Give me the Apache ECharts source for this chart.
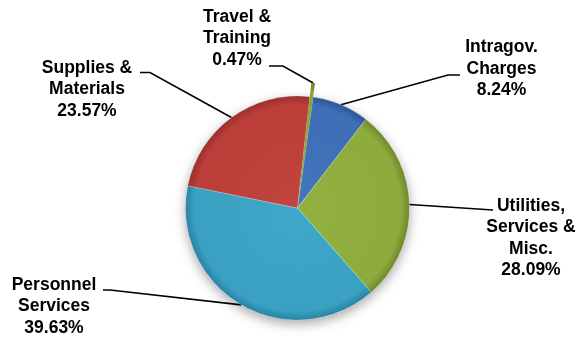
<!DOCTYPE html>
<html>
<head>
<meta charset="utf-8">
<script src="https://cdn.jsdelivr.net/npm/echarts@6/dist/echarts.min.js"></script>
<style>
  html, body { margin: 0; padding: 0; background: #ffffff; }
  #chart { width: 580px; height: 339px; }
</style>
</head>
<body>
<div id="chart"></div>
<script>
// Expense categories (drawn clockwise from just right of 12 o'clock)
const categories = [
  'Travel &\nTraining',
  'Intragov.\nCharges',
  'Utilities,\nServices &\nMisc.',
  'Personnel\nServices',
  'Supplies &\nMaterials'
];
// Share of total, percent
const shares = [0.47, 8.24, 28.09, 39.63, 23.57];
// Slices that stick out past the rim
const extended = [true, false, false, false, false];

// Geometry
const CX = 297.5, CY = 208, R = 112, START_ANGLE = 83.7, POP = 14;

// Slice shading: [centre, body, rim]
const shades = [
  ['#95ae40', '#8ca43a', '#6e8429'],
  ['#4376bd', '#3e6fb6', '#2c5694'],
  ['#93b141', '#8dac3c', '#6f872b'],
  ['#40a8ca', '#3aa1c2', '#2a82a4'],
  ['#c2443f', '#bc3e39', '#99302c']
];

// Label block centres and leader-line bends (null = straight leader)
const labelPlacement = [
  { x: 237,   y: 38.5,  bend: [283, 66],   end: [269, 66] },
  { x: 501.5, y: 69,    bend: [448, 75],   end: [460, 75] },
  { x: 531,   y: 238,   bend: null,        end: [493, 210] },
  { x: 54,    y: 306.5, bend: [110, 290],  end: [103, 290] },
  { x: 87,    y: 89.5,  bend: [150, 72.5], end: [140, 72.5] }
];

const total = shares.reduce((a, b) => a + b, 0);

// Point on the rim of slice i at its middle angle
function rimAnchor(i) {
  let before = 0;
  for (let k = 0; k < i; k++) before += shares[k];
  const midFrac = (before + shares[i] / 2) / total;
  const ang = (START_ANGLE - midFrac * 360) * Math.PI / 180;
  const r = R + (extended[i] ? POP : 0);
  return [CX + r * Math.cos(ang), CY - r * Math.sin(ang)];
}

function sliceFill(i, radius) {
  const s = shades[i];
  return {
    type: 'radial', x: CX, y: CY, r: radius, global: true,
    colorStops: [
      { offset: 0, color: s[0] },
      { offset: 0.8, color: s[1] },
      { offset: 0.92, color: s[1] },
      { offset: 1, color: s[2] }
    ]
  };
}

const pieData = categories.map((name, i) => ({
  name: name,
  value: shares[i],
  itemStyle: { color: sliceFill(i, R) }
}));

// Same slices on a larger radius; only the extended ones are painted
const overlayData = categories.map((name, i) => ({
  name: name,
  value: shares[i],
  itemStyle: { color: extended[i] ? sliceFill(i, R + POP) : 'rgba(0,0,0,0)' }
}));

const chart = echarts.init(document.getElementById('chart'), null, { renderer: 'canvas' });

chart.setOption({
  animation: false,
  backgroundColor: '#ffffff',
  series: [
    {
      // soft drop shadow under the whole pie
      type: 'pie',
      silent: true,
      z: 1,
      center: [CX, CY],
      radius: R,
      startAngle: START_ANGLE,
      label: { show: false },
      labelLine: { show: false },
      itemStyle: {
        color: '#ffffff',
        shadowBlur: 12,
        shadowOffsetY: 4,
        shadowColor: 'rgba(0,0,0,0.35)'
      },
      data: [{ name: 'all', value: total }]
    },
    {
      type: 'pie',
      z: 2,
      center: [CX, CY],
      radius: R,
      startAngle: START_ANGLE,
      clockwise: true,
      avoidLabelOverlap: false,
      emphasis: { disabled: true },
      itemStyle: {
        borderColor: 'rgba(255,255,255,0.35)',
        borderWidth: 0.6
      },
      label: {
        show: true,
        position: 'outside',
        formatter: p => p.name + '\n' + p.value.toFixed(2) + '%',
        fontFamily: '"Liberation Sans", Arial, sans-serif',
        fontWeight: 'bold',
        fontSize: 17.5,
        lineHeight: 21.5,
        color: '#000000',
        align: 'center'
      },
      labelLine: {
        show: true,
        smooth: false,
        lineStyle: { color: '#000000', width: 1.6 }
      },
      labelLayout: function (params) {
        const i = params.dataIndex;
        const p = labelPlacement[i];
        const a = rimAnchor(i);
        const bend = p.bend || [(a[0] + p.end[0]) / 2, (a[1] + p.end[1]) / 2];
        return {
          x: p.x,
          y: p.y,
          align: 'center',
          verticalAlign: 'middle',
          labelLinePoints: [a, bend, p.end]
        };
      },
      data: pieData
    },
    {
      type: 'pie',
      silent: true,
      z: 3,
      center: [CX, CY],
      radius: R + POP,
      startAngle: START_ANGLE,
      clockwise: true,
      label: { show: false },
      labelLine: { show: false },
      itemStyle: { borderWidth: 0 },
      data: overlayData
    }
  ]
});
</script>
</body>
</html>
